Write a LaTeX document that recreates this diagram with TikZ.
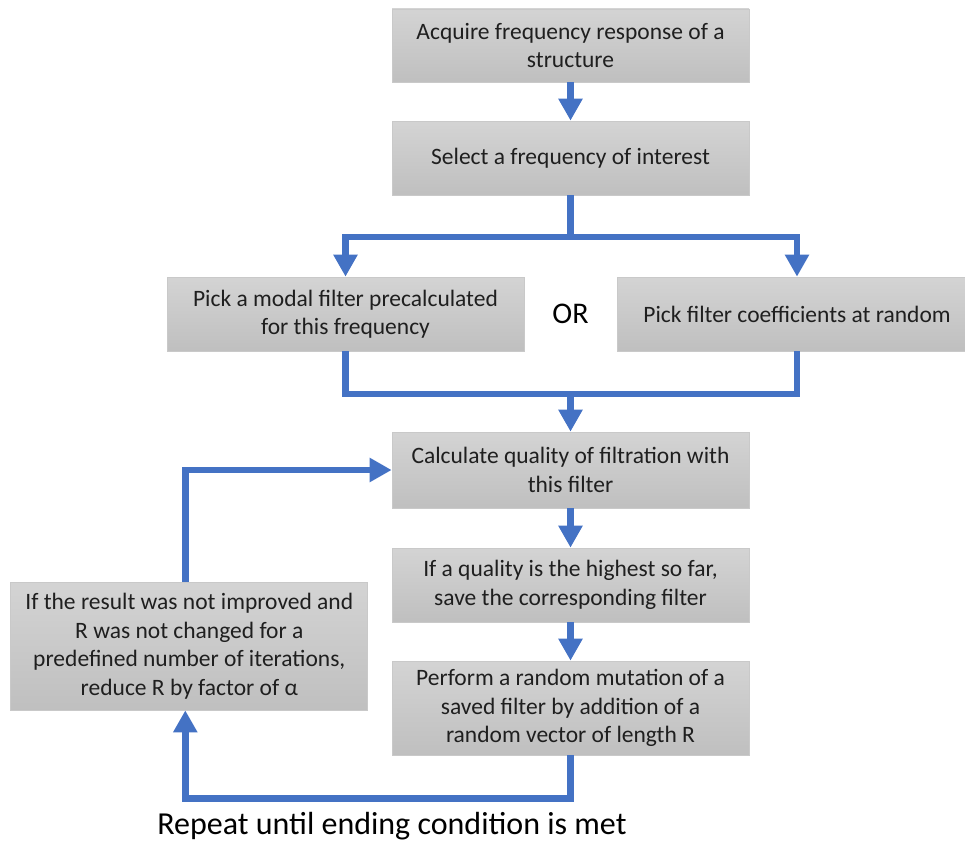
\documentclass[tikz,border=0pt]{standalone}
\usepackage{fontspec}
\setmainfont{Carlito}
\usetikzlibrary{arrows.meta}
\definecolor{flowblue}{HTML}{4472C4}
\begin{document}
\begin{tikzpicture}[x=1pt,y=-1pt,
  box/.style={draw=gray!42, line width=0.7pt, top color=gray!34, bottom color=gray!50,
    align=center, font=\fontsize{23.5}{28.5}\selectfont, text=black!88, inner sep=0pt},
  link/.style={draw=flowblue, line width=6.5pt},
  conn/.style={link, -{Triangle[width=23pt,length=22pt]}}
]
\useasboundingbox (0,0) rectangle (965,843);
\begin{scope}
\clip (0,0) rectangle (965,843);
\node[box, minimum width=357pt, minimum height=73pt] (b1) at (570.5,45.5) {Acquire frequency response of a\\structure};
\node[box, minimum width=357pt, minimum height=74pt] (b2) at (570.5,158) {Select a frequency of interest};
\node[box, minimum width=357pt, minimum height=74pt] (b3) at (345.5,314) {Pick a modal filter precalculated\\for this frequency};
\node[box, minimum width=360pt, minimum height=74pt] (b4) at (797,314) {Pick filter coefficients at random};
\node[box, minimum width=357pt, minimum height=76pt] (b5) at (570.5,470) {Calculate quality of filtration with\\this filter};
\node[box, minimum width=357pt, minimum height=74pt] (b6) at (570.5,585) {If a quality is the highest so far,\\save the corresponding filter};
\node[box, minimum width=357pt, minimum height=94pt] (b7) at (570.5,708) {Perform a random mutation of a\\saved filter by addition of a\\random vector of length R};
\node[box, minimum width=357pt, minimum height=128pt] (b8) at (189.3,646) {If the result was not improved and\\R was not changed for a\\predefined number of iterations,\\reduce R by factor of α};
\end{scope}
\node[font=\fontsize{30}{34}\selectfont, text=black] (or) at (570.5,314) {OR};
\node[font=\fontsize{32}{38}\selectfont, text=black] (rep) at (392,826) {Repeat until ending condition is met};

\coordinate (split) at (570.5,237);
\coordinate (merge) at (570.5,394);
\draw[conn] (b1.south) -- (b2.north);
\draw[link] (b2.south) -- (split);
\draw[conn] (split) -| (b3.north);
\draw[conn] (split) -| (b4.north);
\draw[link] (b3.south) |- (merge) -| (b4.south);
\draw[conn] (merge) -- (b5.north);
\draw[conn] (b5.south) -- (b6.north);
\draw[conn] (b6.south) -- (b7.north);
\draw[conn] (b7.south) -- ++(0,43) -| ([xshift=-4pt]b8.south);
\draw[conn] ([xshift=-4pt]b8.north) |- (b5.west);
\end{tikzpicture}
\end{document}
